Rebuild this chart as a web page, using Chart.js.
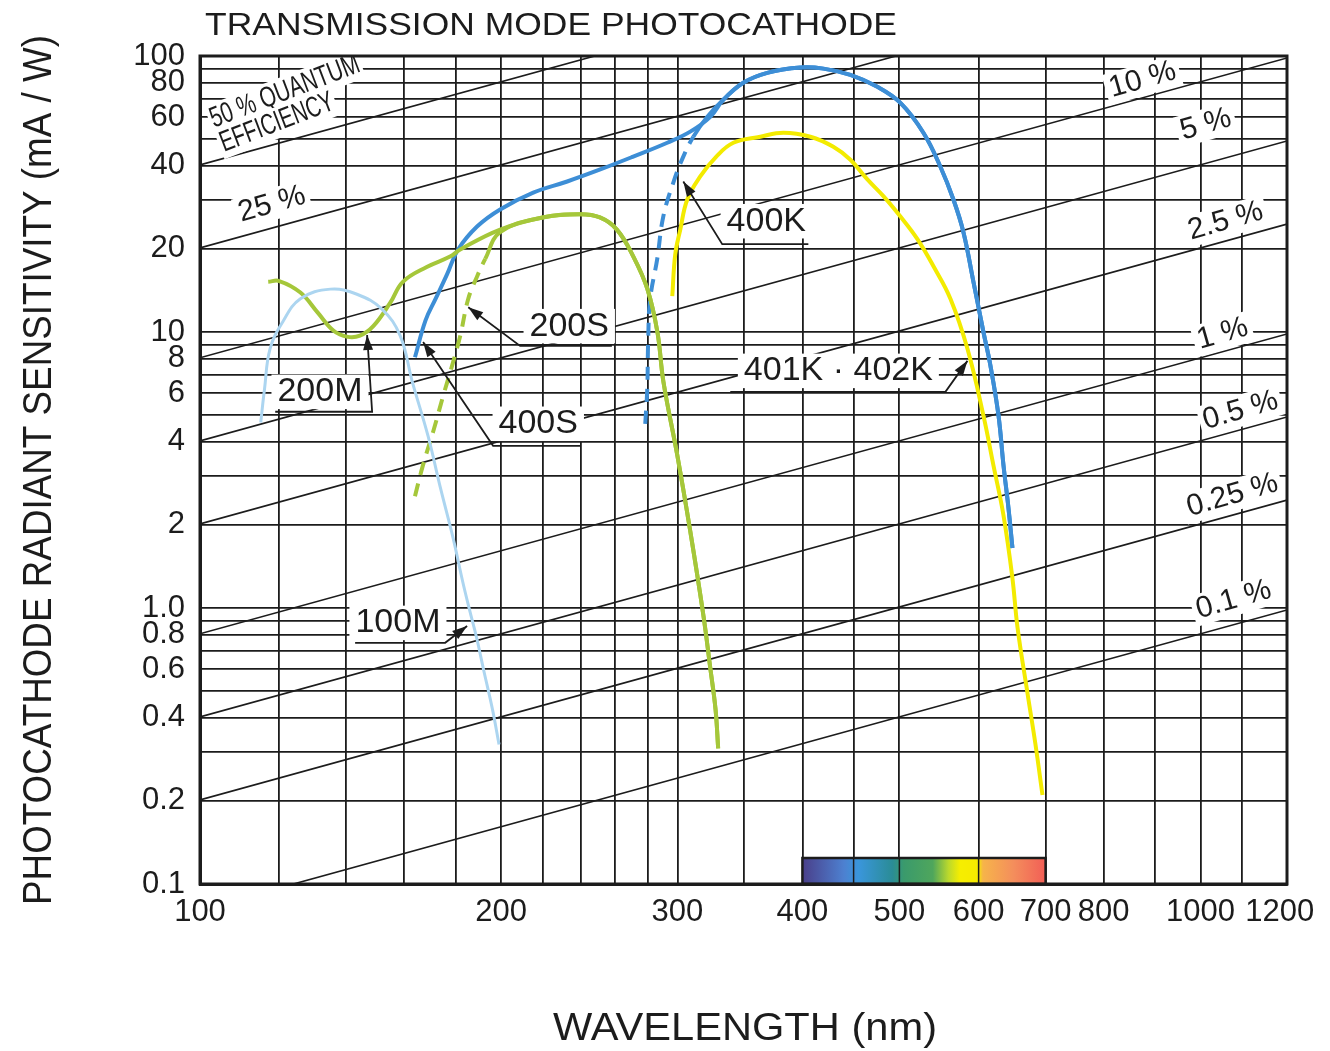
<!DOCTYPE html>
<html>
<head>
<meta charset="utf-8">
<script src="https://cdn.jsdelivr.net/npm/chart.js@4/dist/chart.umd.min.js"></script>
<style>
  html, body { margin: 0; padding: 0; background: #fff; }
  canvas { display: block; }
</style>
</head>
<body>
<canvas id="canvas" width="1330" height="1051"></canvas>
<script>
// axis grid + labels
const xGrid = [100, 120, 140, 160, 180, 200, 220, 240, 260, 280, 300, 350, 400, 450, 500, 600, 700, 800, 900, 1000, 1100, 1200]
const xLabelValues = [100, 200, 300, 400, 500, 600, 700, 800, 1000, 1200]
const yGrid = [0.1, 0.2, 0.3, 0.4, 0.5, 0.6, 0.7, 0.8, 0.9, 1, 2, 3, 4, 5, 6, 7, 8, 9, 10, 20, 30, 40, 50, 60, 70, 80, 90, 100]
const yLabelValues = [0.1, 0.2, 0.4, 0.6, 0.8, 1, 2, 4, 6, 8, 10, 20, 40, 60, 80, 100]
const yLabelText = ['0.1', '0.2', '0.4', '0.6', '0.8', '1.0', '2', '4', '6', '8', '10', '20', '40', '60', '80', '100']

// curves: wavelength (nm) and radiant sensitivity (mA/W)
const wl100M = [115, 116, 117.5, 121, 126, 135, 143.5, 152, 158.5, 163, 169, 174, 179, 183, 186, 189, 192, 196, 199]
const s100M = [4.7, 6.2, 8.7, 10.9, 13.2, 14.3, 13.7, 12.1, 9.7, 6.6, 4.2, 2.7, 1.8, 1.25, 0.98, 0.78, 0.6, 0.43, 0.32]

const wl200M = [117, 120, 126, 131, 136, 140.5, 144.5, 149, 155, 159.5, 168.5, 178, 182, 199.5, 220, 240, 251, 261, 271, 280, 286.5, 290.5, 300, 309, 318.5, 323.5, 327.5, 329.5]
const s200M = [15.2, 15.3, 13.9, 11.8, 10.1, 9.6, 9.7, 10.5, 12.8, 15.2, 17.2, 18.8, 19.9, 23.5, 26.0, 26.7, 26.0, 23.5, 18.8, 14.3, 10, 6.6, 3.56, 1.9, 0.94, 0.61, 0.43, 0.31]

// 200S: dashed rise, then shares the 200M curve
const wl200Sdash = [164, 167, 171, 175, 178.6, 182, 185.4, 189.2, 192.8, 199.5]
const s200Sdash = [2.54, 3.28, 4.35, 5.87, 7.54, 9.68, 13.2, 15.9, 18.4, 23.0]

const wl400S = [164, 168, 172, 176.6, 181.1, 189.2, 199.5, 215.3, 232.8, 251.2, 271, 293.1, 309, 323.6, 333.4, 349.1, 368.9, 398.1, 419.8, 446.7, 475.3, 501.2, 528.4, 549.5, 566.2, 579.4, 592.9, 606.7, 616.6, 628.1, 635.4, 642.7, 648.6]
const s400S = [8.1, 11.0, 13.2, 16.2, 19.9, 24.1, 27.8, 32.0, 35.1, 38.8, 43.2, 48.5, 53.2, 60.2, 69.4, 80.0, 86.9, 90.8, 90.0, 85.4, 77.3, 67.6, 52.7, 39.7, 30.2, 23.0, 15.2, 10, 7.54, 4.98, 3.28, 2.3, 1.65]

// 400K: dashed rise, then shares the 400S curve
const wl400Kdash = [278.6, 279.9, 280.5, 281.8, 286.4, 290.4, 297.2, 304.1, 311.2, 321.4]
const s400Kdash = [4.65, 6.22, 9.44, 13.2, 18.4, 26.2, 34.8, 43.2, 51.0, 60.2]

const wl401K = [296.5, 298.5, 302, 306.9, 316.2, 328.1, 341.2, 363.1, 382.8, 407.4, 429.5, 446.7, 464.5, 482.2, 501.2, 521.2, 540.8, 562.3, 584.8, 606.7, 620.9, 635.3, 648.6, 656.2, 671.5, 683.9, 695]
const s401K = [13.5, 19.1, 23.5, 30.2, 36.6, 43.2, 48.5, 51.0, 52.7, 51.0, 46.9, 42.1, 35.7, 31.0, 26.2, 21.7, 17.3, 13.2, 8.69, 4.98, 3.28, 2.17, 1.28, 0.85, 0.49, 0.32, 0.21]

// quantum efficiency reference lines (%)
const qeLevels = [50, 25, 10, 5, 2.5, 1, 0.5, 0.25, 0.1]
const qeText = ['', '25 %', '10 %', '5 %', '2.5 %', '1 %', '0.5 %', '0.25 %', '0.1 %']
const qeTextAt = [null, [118, 29], [875, 81.9], [1012, 56.4], [1059, 25.2], [1052, 9.84], [1096, 5.19], [1076, 2.56], [1079, 1.07]]

const FONT = "'Liberation Sans', Arial, Helvetica, sans-serif"
const INK = '#1c1c1c'

const pts = (xs, ys) => xs.map((x, i) => ({ x: x, y: ys[i] }))

const wl200S = wl200Sdash.concat(wl200M.slice(14))
const s200S = s200Sdash.concat(s200M.slice(14))
const wl400K = wl400Kdash.concat(wl400S.slice(14))
const s400K = s400Kdash.concat(s400S.slice(14))

function curve(label, xs, ys, color, width, dashCount) {
  const ds = {
    label: label,
    data: pts(xs, ys),
    borderColor: color,
    backgroundColor: color,
    borderWidth: width,
    pointRadius: 0,
    showLine: true,
    tension: 0.4,
    order: 0,
  }
  if (dashCount) {
    ds.segment = { borderDash: ctx => ctx.p1DataIndex < dashCount ? [13, 9] : [] }
  }
  return ds
}

const datasets = [
  curve('100M', wl100M, s100M, '#acd5f0', 3, 0),
  curve('200M', wl200M, s200M, '#a5c73a', 4, 0),
  curve('200S', wl200S, s200S, '#a5c73a', 4, wl200Sdash.length - 1),
  curve('400S', wl400S, s400S, '#3d8ed6', 4, 0),
  curve('400K', wl400K, s400K, '#3d8ed6', 4, wl400Kdash.length - 1),
  curve('401K · 402K', wl401K, s401K, '#f3eb00', 4, 0),
]
qeLevels.forEach(q => {
  datasets.push({
    label: q + ' %',
    data: [100, 1220].map(l => ({ x: l, y: q * l / 124 })),
    borderColor: INK,
    borderWidth: 1.6,
    pointRadius: 0,
    showLine: true,
    order: 1,
  })
})

// curve callouts: text centre, then leader path ending in an arrow (data units)
const callouts = [
  { text: '200M', at: [131.8, 6.07], path: [[118.9, 5.14], [148.6, 5.14], [146.9, 9.75]] },
  { text: '200S', at: [233.9, 10.5], path: [[258, 8.9], [208.9, 8.9], [185.4, 12.3]] },
  { text: '400S', at: [217.8, 4.65], path: [[239.9, 3.87], [196.3, 3.87], [167.1, 9.2]] },
  { text: '400K', at: [368.1, 25.2], path: [[405.5, 20.8], [332.6, 20.8], [304.1, 35.1]] },
  { text: '401K · 402K', at: [434.5, 7.23], path: [[338.8, 6.07], [555.9, 6.07], [584.8, 7.86]] },
  { text: '100M', at: [157.7, 0.883], path: [[142.9, 0.748], [175.8, 0.748], [184.9, 0.861]] },
]

function px(chart, p) {
  return [chart.scales.x.getPixelForValue(p[0]), chart.scales.y.getPixelForValue(p[1])]
}

function text(ctx, str, x, y, o) {
  ctx.save()
  ctx.translate(x, y)
  if (o.angle) ctx.rotate(o.angle * Math.PI / 180)
  ctx.font = o.size + 'px ' + FONT
  const w = ctx.measureText(str).width
  ctx.scale(o.width ? o.width / w : 1, 1)
  if (o.box) {
    const h = o.size * 0.78
    ctx.fillStyle = '#fff'
    ctx.fillRect(-w / 2 - o.box, -h / 2 - 4, w + 2 * o.box, h + 8)
  }
  ctx.fillStyle = INK
  ctx.textAlign = o.align || 'center'
  ctx.textBaseline = o.base || 'middle'
  ctx.fillText(str, 0, 0)
  ctx.restore()
}

function spectrumBar(chart) {
  const ctx = chart.ctx
  const x = chart.scales.x
  const bottom = chart.chartArea.bottom
  const x0 = x.getPixelForValue(400), x1 = x.getPixelForValue(700)
  const top = bottom - 26
  const g = ctx.createLinearGradient(x0, 0, x1, 0)
  const stops = [[400, '#4a3f8a'], [440, '#4d80d0'], [455, '#3a96dc'], [492, '#2a8c96'], [505, '#3a9a6c'], [540, '#4fa65c'], [560, '#bcd92c'], [575, '#f6ee00'], [599, '#f6ea00'], [606, '#f6b44a'], [650, '#f48e5c'], [700, '#f25e56']]
  stops.forEach(s => g.addColorStop((x.getPixelForValue(s[0]) - x0) / (x1 - x0), s[1]))
  ctx.save()
  ctx.fillStyle = g
  ctx.fillRect(x0, top, x1 - x0, bottom - top)
  ctx.strokeStyle = INK
  ctx.lineWidth = 1.5
  ;[450, 500, 600].forEach(v => {
    const xx = x.getPixelForValue(v)
    ctx.beginPath(); ctx.moveTo(xx, top); ctx.lineTo(xx, bottom); ctx.stroke()
  })
  ctx.lineWidth = 2.5
  ctx.strokeRect(x0, top, x1 - x0, bottom - top)
  ctx.restore()
}

let boxed = false
const decor = {
  id: 'decor',
  beforeDraw() { boxed = false },
  beforeDatasetDraw(chart, args) {
    if (boxed || args.meta.order !== 0) return
    boxed = true
    const ctx = chart.ctx
    ctx.save()
    ctx.beginPath()
    ctx.rect(chart.chartArea.left, chart.chartArea.top, chart.chartArea.right - chart.chartArea.left, chart.chartArea.bottom - chart.chartArea.top)
    ctx.clip()
    spectrumBar(chart)
    callouts.forEach(c => {
      const p = px(chart, c.at)
      text(ctx, c.text, p[0], p[1], { size: 34, box: 6 })
    })
    qeText.forEach((t, i) => {
      if (!t) return
      const p = px(chart, qeTextAt[i])
      text(ctx, t, p[0], p[1], { size: 30, angle: -16, box: 4 })
    })
    const a = px(chart, [121.6, 74.1]), b = px(chart, [119.4, 57.3])
    text(ctx, '50 % QUANTUM', a[0], a[1], { size: 29, angle: -21, width: 158, box: 3 })
    text(ctx, 'EFFICIENCY', b[0], b[1], { size: 29, angle: -21, width: 120, box: 3 })
    ctx.restore()
  },
  afterDatasetsDraw(chart) {
    const ctx = chart.ctx
    const area = chart.chartArea
    ctx.save()
    ctx.strokeStyle = INK
    ctx.fillStyle = INK
    ctx.lineWidth = 1.8
    callouts.forEach(c => {
      const p = c.path.map(q => px(chart, q))
      ctx.beginPath()
      ctx.moveTo(p[0][0], p[0][1])
      p.slice(1).forEach(q => ctx.lineTo(q[0], q[1]))
      ctx.stroke()
      const tip = p[p.length - 1], from = p[p.length - 2]
      const ang = Math.atan2(tip[1] - from[1], tip[0] - from[0])
      ctx.save()
      ctx.translate(tip[0], tip[1])
      ctx.rotate(ang)
      ctx.beginPath()
      ctx.moveTo(0, 0); ctx.lineTo(-15, -5); ctx.lineTo(-15, 5); ctx.closePath()
      ctx.fill()
      ctx.restore()
    })
    ctx.lineWidth = 3
    ctx.strokeRect(area.left, area.top, area.right - area.left, area.bottom - area.top)
    ctx.restore()
  },
  afterDraw(chart) {
    const ctx = chart.ctx
    text(ctx, 'TRANSMISSION MODE PHOTOCATHODE', 205, 35, { size: 32, width: 692, align: 'left', base: 'alphabetic' })
    text(ctx, 'WAVELENGTH (nm)', 745, 1040, { size: 39, width: 384, base: 'alphabetic' })
    text(ctx, 'PHOTOCATHODE RADIANT SENSITIVITY (mA / W)', 51, 470, { size: 40, width: 870, angle: -90, base: 'alphabetic' })
  },
}

const config = {
  type: 'scatter',
  data: { datasets: datasets },
  options: {
    responsive: false,
    animation: false,
    devicePixelRatio: 1,
    layout: { padding: { top: 56, right: 43, bottom: 0, left: 0 } },
    plugins: { legend: { display: false }, tooltip: { enabled: false } },
    scales: {
      x: {
        type: 'logarithmic',
        min: 100,
        max: 1220,
        bounds: 'data',
        afterBuildTicks: s => { s.ticks = xGrid.map(v => ({ value: v })) },
        afterFit: s => { s.height = 167 },
        grid: {
          color: ctx => (ctx.tick && ctx.tick.value === 1200) ? 'rgba(0,0,0,0)' : INK,
          lineWidth: 1.8,
          drawTicks: false,
        },
        border: { color: INK, width: 3 },
        ticks: {
          autoSkip: false,
          maxRotation: 0,
          padding: 10,
          color: INK,
          font: { family: FONT, size: 31 },
          callback: v => xLabelValues.includes(v) ? String(v) : '',
        },
      },
      y: {
        type: 'logarithmic',
        min: 0.1,
        max: 100,
        bounds: 'data',
        afterBuildTicks: s => { s.ticks = yGrid.map(v => ({ value: v })) },
        afterFit: s => { s.width = 200 },
        grid: { color: INK, lineWidth: 1.8, drawTicks: false },
        border: { color: INK, width: 3 },
        ticks: {
          autoSkip: false,
          padding: 15,
          color: INK,
          font: { family: FONT, size: 31 },
          callback: v => {
            const i = yLabelValues.indexOf(v)
            return i < 0 ? '' : yLabelText[i]
          },
        },
      },
    },
  },
  plugins: [decor],
}

const canvas = document.getElementById('canvas')
const chart = new Chart(canvas, config)
</script>
</body>
</html>
